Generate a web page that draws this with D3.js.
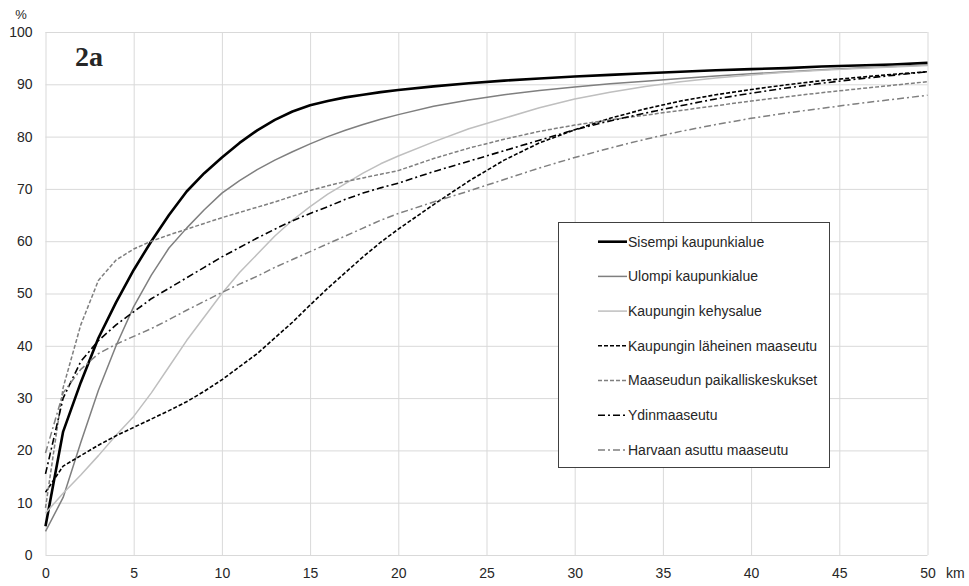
<!DOCTYPE html>
<html>
<head>
<meta charset="utf-8">
<script src="https://cdn.jsdelivr.net/npm/d3@7"></script>
<style>
  body { margin: 0; background: #fff; }
  svg { display: block; }
  text { font-family: "Liberation Sans", Arial, sans-serif; fill: #262626; }
</style>
</head>
<body>
<svg width="969" height="586"></svg>
<script>
// distance from centre (km) and cumulative share (%) for each area type
var km = [0, 1, 2, 3, 4, 5, 6, 7, 8, 9, 10, 11, 12, 13, 14, 15, 16, 17, 18, 19, 20,
          22, 24, 26, 28, 30, 32, 34, 36, 38, 40, 42, 44, 46, 48, 50];

var sisempi = [5.5, 23.6, 33, 41.5, 48.3, 54.5, 60, 65, 69.5, 73, 76, 78.8, 81.2, 83.2, 84.8, 86, 86.8, 87.5, 88, 88.5, 88.9,
               89.6, 90.2, 90.7, 91.1, 91.5, 91.8, 92.1, 92.4, 92.7, 92.9, 93.1, 93.4, 93.6, 93.8, 94.1];
var ulompi = [4.5, 11, 21.5, 31.5, 40, 47.5, 53.5, 58.7, 62.5, 66, 69.2, 71.6, 73.7, 75.5, 77.1, 78.6, 80, 81.2, 82.3, 83.3, 84.2,
              85.8, 87, 88, 88.8, 89.5, 90.1, 90.6, 91.1, 91.6, 92, 92.4, 92.8, 93.1, 93.4, 93.7];
var kehys = [8, 11.8, 15.3, 19, 22.9, 26.5, 31, 36, 41, 45.5, 50, 54, 57.5, 61, 64, 66.6, 69, 71, 73, 74.8, 76.3,
             79, 81.5, 83.5, 85.5, 87.2, 88.5, 89.6, 90.5, 91.2, 91.8, 92.3, 92.7, 93, 93.3, 93.6];
var laheinen = [12, 17, 19, 21, 22.8, 24.4, 26, 27.6, 29.3, 31.3, 33.5, 36, 38.5, 41.5, 44.5, 47.8, 51, 54, 57, 59.8, 62.3,
                67, 71.5, 75.5, 78.8, 81.3, 83.5, 85.3, 86.8, 88, 89, 89.9, 90.7, 91.3, 91.9, 92.4];
var paikallis = [9, 32, 44, 52.5, 56.4, 58.5, 60, 61.2, 62.3, 63.4, 64.5, 65.5, 66.5, 67.5, 68.6, 69.7, 70.6, 71.4, 72.1, 72.8, 73.5,
                 75.8, 77.8, 79.5, 81, 82.2, 83.2, 84.1, 85, 85.9, 86.8, 87.6, 88.4, 89.1, 89.8, 90.5];
var ydin = [15.5, 30, 37, 41, 44, 46.5, 49, 51, 53, 55, 57, 58.8, 60.6, 62.3, 63.9, 65.3, 66.6, 68, 69.2, 70.2, 71.1,
            73.3, 75.3, 77.3, 79.3, 81.3, 83, 84.5, 85.9, 87.2, 88.3, 89.3, 90.2, 91, 91.7, 92.4];
var harvaan = [19.5, 31, 35.5, 38.5, 40.3, 41.8, 43.3, 45, 46.8, 48.5, 50.2, 51.8, 53.3, 55, 56.5, 58, 59.5, 61, 62.5, 64, 65.3,
               67.5, 69.6, 71.8, 74, 76, 77.8, 79.5, 81, 82.3, 83.5, 84.5, 85.4, 86.3, 87.1, 87.9];

var names = ["Sisempi kaupunkialue", "Ulompi kaupunkialue", "Kaupungin kehysalue",
             "Kaupungin läheinen maaseutu", "Maaseudun paikalliskeskukset",
             "Ydinmaaseutu", "Harvaan asuttu maaseutu"];

var xTicks = [0, 5, 10, 15, 20, 25, 30, 35, 40, 45, 50];
var yTicks = [0, 10, 20, 30, 40, 50, 60, 70, 80, 90, 100];

var svg = d3.select("svg");

var x = d3.scaleLinear().domain([0, 50]).range([45.5, 927.5]),
    y = d3.scaleLinear().domain([0, 100]).range([555, 32]);

// line styles, same order as names
var styles = [
  { color: "#000",    width: 2.6, dash: null },
  { color: "#7f7f7f", width: 1.5, dash: null },
  { color: "#bfbfbf", width: 1.5, dash: null },
  { color: "#000",    width: 1.6, dash: "4,2" },
  { color: "#7f7f7f", width: 1.5, dash: "4,2" },
  { color: "#000",    width: 1.6, dash: "7,3,2,3" },
  { color: "#7f7f7f", width: 1.5, dash: "7,3,2,3" }
];

var series = [sisempi, ulompi, kehys, laheinen, paikallis, ydin, harvaan].map(function(vals, i) {
  return { name: names[i], style: styles[i], values: vals.map(function(v, j) { return [km[j], v]; }) };
});

// y axis + horizontal grid
var yAxis = svg.append("g")
    .attr("transform", "translate(45.5,0)")
    .call(d3.axisLeft(y).tickValues(yTicks).tickSize(-882).tickPadding(13));
yAxis.select(".domain").remove();
yAxis.selectAll("line").attr("stroke", "#d9d9d9");
yAxis.selectAll("text").style("font-size", "14px").attr("fill", "#262626");

// x axis + vertical grid
var xAxis = svg.append("g")
    .attr("transform", "translate(0,555)")
    .call(d3.axisBottom(x).tickValues(xTicks).tickSize(-523).tickPadding(13));
xAxis.select(".domain").remove();
xAxis.selectAll("line").attr("stroke", "#d9d9d9");
xAxis.selectAll("text").style("font-size", "14px").attr("fill", "#262626");

svg.append("text").attr("x", 21).attr("y", 19).attr("text-anchor", "middle")
    .style("font-size", "13px").text("%");
svg.append("text").attr("x", 946).attr("y", 578)
    .style("font-size", "14px").text("km");

svg.append("text").attr("x", 75).attr("y", 66)
    .style("font-family", "'Liberation Serif', 'DejaVu Serif', serif")
    .style("font-weight", "bold").style("font-size", "28px").attr("fill", "#1a1a1a")
    .text("2a");

var line = d3.line()
    .x(function(d) { return x(d[0]); })
    .y(function(d) { return y(d[1]); });

svg.append("g").selectAll("path")
  .data(series)
  .enter().append("path")
    .attr("fill", "none")
    .attr("stroke", function(d) { return d.style.color; })
    .attr("stroke-width", function(d) { return d.style.width; })
    .attr("stroke-dasharray", function(d) { return d.style.dash; })
    .attr("stroke-linejoin", "round")
    .attr("d", function(d) { return line(d.values); });

// legend
var legend = svg.append("g");
legend.append("rect")
    .attr("x", 558.5).attr("y", 222.5)
    .attr("width", 271).attr("height", 245)
    .attr("fill", "#fff").attr("stroke", "#404040").attr("stroke-width", 1);

var item = legend.selectAll(".item")
  .data(series)
  .enter().append("g")
    .attr("class", "item")
    .attr("transform", function(d, i) { return "translate(0," + (241.7 + i * 34.7) + ")"; });

item.append("line")
    .attr("x1", 598).attr("x2", 627)
    .attr("stroke", function(d) { return d.style.color; })
    .attr("stroke-width", function(d) { return d.style.width; })
    .attr("stroke-dasharray", function(d) { return d.style.dash; });

item.append("text")
    .attr("x", 628).attr("dy", "0.35em")
    .style("font-size", "14px")
    .text(function(d) { return d.name; });
</script>
</body>
</html>
